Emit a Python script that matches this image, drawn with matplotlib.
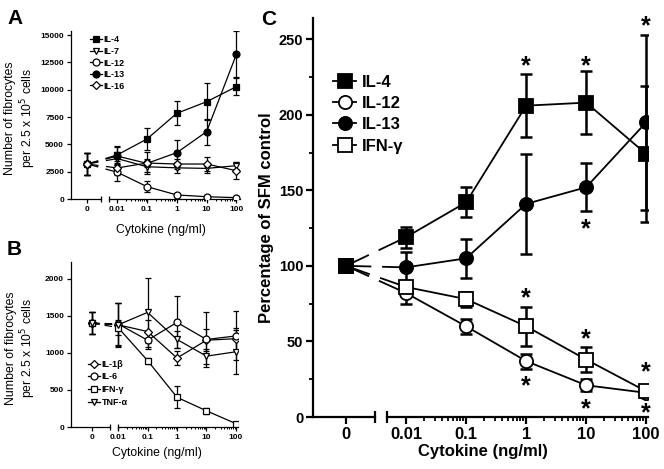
import numpy as np
import matplotlib
matplotlib.use('Agg')
import matplotlib.pyplot as plt
from matplotlib.spines import Spine

plt.rcParams['font.family'] = ['Liberation Sans', 'DejaVu Sans']

# cytokine concentrations (ng/ml), 0 = serum free control
conc = [0, 0.01, 0.1, 1, 10, 100]
conc_labels = ['0', '0.01', '0.1', '1', '10', '100']

# panel A: fibrocytes per 2.5e5 cells
a_labels = ['IL-4', 'IL-7', 'IL-12', 'IL-13', 'IL-16']
a_il4 = [3200, 4030, 5490, 7840, 8900, 10280]
a_il4_err = [1000, 850, 1000, 1100, 1700, 800]
a_il7 = [3200, 3700, 2950, 2850, 2800, 3050]
a_il7_err = [1000, 600, 500, 500, 400, 300]
a_il12 = [3200, 2450, 1130, 370, 210, 120]
a_il12_err = [1000, 800, 500, 150, 100, 60]
a_il13 = [3200, 3930, 3260, 4240, 6160, 13240]
a_il13_err = [1000, 800, 1000, 1150, 1200, 2100]
a_il16 = [3200, 2840, 3290, 3200, 3200, 2590]
a_il16_err = [1000, 600, 400, 500, 600, 800]
a_yticks = [0, 2500, 5000, 7500, 10000, 12500, 15000]

# panel B
b_labels = ['IL-1β', 'IL-6', 'IFN-γ', 'TNF-α']
b_il1b = [1400, 1377, 1287, 930, 1170, 1190]
b_il1b_err = [150, 300, 150, 100, 150, 150]
b_il6 = [1400, 1390, 1170, 1410, 1180, 1227]
b_il6_err = [150, 280, 120, 350, 370, 330]
b_ifng = [1400, 1340, 895, 400, 218, 45]
b_ifng_err = [150, 100, 40, 150, 40, 20]
b_tnfa = [1400, 1377, 1545, 1180, 955, 1014]
b_tnfa_err = [150, 290, 470, 120, 100, 300]
b_yticks = [0, 500, 1000, 1500, 2000]

# panel C: percentage of SFM control
c_labels = ['IL-4', 'IL-12', 'IL-13', 'IFN-γ']
c_il4 = [100, 119, 142, 206, 208, 174]
c_il4_err = [0, 7, 10, 21, 21, 45]
c_il12 = [100, 82, 60, 37, 21, 16]
c_il12_err = [0, 7, 5, 5, 4, 3]
c_il13 = [100, 99, 105, 141, 152, 195]
c_il13_err = [0, 10, 13, 33, 16, 58]
c_ifng = [100, 86, 78, 60, 38, 17]
c_ifng_err = [0, 4, 5, 13, 8, 3]
c_yticks = [0, 50, 100, 150, 200, 250]
# significance stars (x conc, y value)
star_x = [1, 10, 100, 10, 1, 1, 10, 10, 100, 100]
star_y = [234, 234, 260, 126, 80, 22, 53, 7, 31, 4]


def make_scale(zero_pos):
    def fwd(x):
        x = np.asarray(x, dtype=float)
        with np.errstate(divide='ignore', invalid='ignore'):
            p = np.log10(x) + 3
        return np.where(x > 0, p, zero_pos)

    def inv(p):
        return 10 ** (np.asarray(p, dtype=float) - 3)
    return fwd, inv


def broken_xaxis(ax, zero_pos, lo, seg1, seg2, hi, lw, brk_ms, tl, fs):
    fwd, inv = make_scale(zero_pos)
    ax.set_xscale('function', functions=(fwd, inv))
    ax.set_xticks(conc)
    ax.set_xticklabels(conc_labels, fontsize=fs, fontweight='bold')
    minors = [k * 10.0 ** e for e in range(-2, 2) for k in range(2, 10)]
    ax.set_xticks(minors, minor=True)
    ax.set_xlim(inv(lo), inv(hi))
    ax.spines['top'].set_visible(False)
    ax.spines['right'].set_visible(False)
    ax.spines['bottom'].set_bounds(inv(seg2), inv(hi))
    sp = Spine.linear_spine(ax, 'bottom')
    sp.set_bounds(inv(lo), inv(seg1))
    sp.set_linewidth(lw)
    ax.spines['bottom_left'] = sp
    for s in ['left', 'bottom']:
        ax.spines[s].set_linewidth(lw)
    ax.plot([inv(seg1), inv(seg2)], [0, 0], ls='none', marker='|',
            ms=brk_ms, mew=lw, color='k', clip_on=False,
            transform=ax.get_xaxis_transform(), zorder=5)
    ax.tick_params(axis='both', which='major', direction='out',
                   length=tl, width=lw, pad=2)
    ax.tick_params(axis='x', which='minor', direction='out',
                   length=tl * 0.55, width=lw * 0.8)


def series(ax, y, err, marker, filled, ms, lw, elw, cap, dash, label):
    mfc = 'k' if filled else 'white'
    ax.errorbar(conc, y, yerr=err, fmt='none', ecolor='k',
                elinewidth=elw, capsize=cap, capthick=elw, zorder=2)
    ax.plot(conc[:2], y[:2], color='k', lw=lw, ls=(0, dash),
            marker=marker, markevery=[0], ms=ms, mfc=mfc, mec='k',
            mew=lw, zorder=3)
    ax.plot(conc[1:], y[1:], color='k', lw=lw, marker=marker, ms=ms,
            mfc=mfc, mec='k', mew=lw, label=label, zorder=3)


fig = plt.figure(figsize=(6.64, 4.69), dpi=100)
W, H = 664.0, 469.0


def add_ax(l, r, t, b):
    return fig.add_axes([l / W, 1 - b / H, (r - l) / W, (b - t) / H])


ylab_ab = 'Number of fibrocytes\nper 2.5 x 10$^5$ cells'

# ---------------- panel A
axA = add_ax(71, 240, 31, 199)
broken_xaxis(axA, 0.0, -0.55, 0.45, 0.72, 5.12, 0.9, 5, 3, 6)
axA.set_ylim(0, 15370)
axA.set_yticks(a_yticks)
axA.set_yticklabels([str(v) for v in a_yticks], fontsize=6, fontweight='bold')
sA = dict(lw=0.9, elw=0.9, cap=2.2, dash=(9, 6))
series(axA, a_il4, a_il4_err, 's', True, 5, label=a_labels[0], **sA)
series(axA, a_il7, a_il7_err, 'v', False, 5, label=a_labels[1], **sA)
series(axA, a_il12, a_il12_err, 'o', False, 5, label=a_labels[2], **sA)
series(axA, a_il13, a_il13_err, 'o', True, 5, label=a_labels[3], **sA)
series(axA, a_il16, a_il16_err, 'D', False, 3.8, label=a_labels[4], **sA)
axA.legend(loc='upper left', bbox_to_anchor=(0.09, 0.995), frameon=False,
           handlelength=1.3, handletextpad=0.2, labelspacing=0.28,
           borderaxespad=0, prop={'size': 6.5, 'weight': 'bold'})
axA.set_xlabel('Cytokine (ng/ml)', fontsize=8.8)
axA.xaxis.set_label_coords(0.53, -0.15)
axA.set_ylabel(ylab_ab, fontsize=8.8, linespacing=1.15)
axA.yaxis.set_label_coords(-0.195, 0.48)

# ---------------- panel B
axB = add_ax(71, 238, 262, 427)
broken_xaxis(axB, 0.12, -0.6, 0.73, 0.98, 5.07, 0.9, 5, 3, 6)
axB.set_ylim(0, 2224)
axB.set_yticks(b_yticks)
axB.set_yticklabels([str(v) for v in b_yticks], fontsize=6, fontweight='bold')
sB = dict(lw=0.9, elw=0.9, cap=2.2, dash=(6, 4))
series(axB, b_il1b, b_il1b_err, 'D', False, 3.8, label=b_labels[0], **sB)
series(axB, b_il6, b_il6_err, 'o', False, 5, label=b_labels[1], **sB)
series(axB, b_ifng, b_ifng_err, 's', False, 5, label=b_labels[2], **sB)
series(axB, b_tnfa, b_tnfa_err, 'v', False, 5, label=b_labels[3], **sB)
axB.legend(loc='upper left', bbox_to_anchor=(0.08, 0.43), frameon=False,
           handlelength=1.3, handletextpad=0.2, labelspacing=0.42,
           borderaxespad=0, prop={'size': 6.5, 'weight': 'bold'})
axB.set_xlabel('Cytokine (ng/ml)', fontsize=8.8)
axB.xaxis.set_label_coords(0.515, -0.12)
axB.set_ylabel(ylab_ab, fontsize=8.8, linespacing=1.15)
axB.yaxis.set_label_coords(-0.195, 0.48)

# ---------------- panel C
axC = add_ax(313, 648, 18, 417)
broken_xaxis(axC, 0.0, -0.55, 0.49, 0.68, 5.03, 1.6, 8, 5, 12)
axC.set_ylim(0, 264)
axC.set_yticks(c_yticks)
axC.set_yticklabels([str(v) for v in c_yticks], fontsize=10.5,
                    fontweight='bold')
axC.set_yticks([25, 75, 125, 175, 225], minor=True)
axC.tick_params(axis='y', which='minor', direction='out', length=3,
                width=1.3)
sC = dict(lw=1.3, elw=1.8, cap=4, dash=(14, 6))
series(axC, c_il12, c_il12_err, 'o', False, 9.5, label=c_labels[1], **sC)
series(axC, c_ifng, c_ifng_err, 's', False, 9.5, label=c_labels[3], **sC)
series(axC, c_il13, c_il13_err, 'o', True, 9.5, label=c_labels[2], **sC)
series(axC, c_il4, c_il4_err, 's', True, 9.5, label=c_labels[0], **sC)
hC, lC = axC.get_legend_handles_labels()
order = [lC.index(n) for n in c_labels]
axC.legend([hC[i] for i in order], [lC[i] for i in order], loc='upper left',
           bbox_to_anchor=(0.04, 0.875), frameon=False, handlelength=1.4,
           handletextpad=0.3, labelspacing=0.38, borderaxespad=0,
           prop={'size': 12, 'weight': 'bold'})
for sx, sy in zip(star_x, star_y):
    axC.text(sx, sy, '*', ha='center', va='center_baseline', fontsize=18,
             fontweight='bold', clip_on=False)
axC.set_xlabel('Cytokine (ng/ml)', fontsize=12, fontweight='bold')
axC.xaxis.set_label_coords(0.507, -0.068)
axC.set_ylabel('Percentage of SFM control', fontsize=12, fontweight='bold')
axC.yaxis.set_label_coords(-0.115, 0.5)

# panel letters
for letter, px, py in [('A', 7, 24), ('B', 7, 255), ('C', 261, 25)]:
    fig.text(px / W, 1 - py / H, letter, fontsize=15, fontweight='bold',
             va='baseline', ha='left')

fig.savefig('out.png', dpi=100)
